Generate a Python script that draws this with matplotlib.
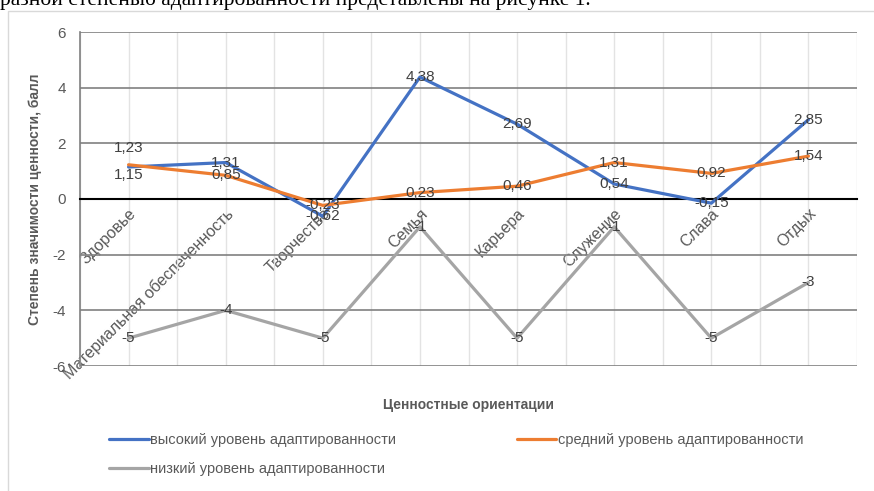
import numpy as np
import matplotlib
matplotlib.use("Agg")
import matplotlib.pyplot as plt
from matplotlib.patches import Rectangle
from matplotlib.ticker import MultipleLocator

plt.rcParams['font.family'] = ['Liberation Sans', 'DejaVu Sans']
plt.rcParams['axes.unicode_minus'] = False

categories = ["Здоровье", "Материальная обеспеченность", "Творчество", "Семья",
              "Карьера", "Служение", "Слава", "Отдых"]
high = [1.15, 1.31, -0.62, 4.38, 2.69, 0.54, -0.15, 2.85]
medium = [1.23, 0.85, -0.23, 0.23, 0.46, 1.31, 0.92, 1.54]
low = [-5, -4, -5, -1, -5, -1, -5, -3]
series_names = ["высокий уровень адаптированности",
                "средний уровень адаптированности",
                "низкий уровень адаптированности"]
colors = ["#4472C4", "#ED7D31", "#A5A5A5"]

fig = plt.figure(figsize=(8.74, 4.91), dpi=100)

# body text of the document, cut off at the top
fig.text(0.0, 1 - 5 / 491, "разной степенью адаптированности представлены на рисунке 1.",
         family="Liberation Serif", fontsize=15.5, va="baseline", ha="left", color="black")

# chart area border
fig.add_artist(Rectangle((7.5 / 874, -0.01), 1.0, 1 - 11 / 491 + 0.01,
                         transform=fig.transFigure, fill=False, edgecolor="#d9d9d9", lw=1))

ax = fig.add_axes([80 / 874, 1 - 366 / 491, 777 / 874, 334 / 491])
x = np.arange(len(categories))

lines = []
for vals, name, c in zip([high, medium, low], series_names, colors):
    ln, = ax.plot(x, vals, color=c, lw=2.3, label=name, solid_capstyle="round", zorder=3)
    lines.append(ln)

# data labels
offsets_high = [6, 0, 0, 0, 0, 0, 0, 0]
offsets_med = [-12, 0, 0, 0, 0, 0, 0, 0]
for vals, offs in [(high, offsets_high), (medium, offsets_med), (low, [0] * 8)]:
    for xi, v, o in zip(x, vals, offs):
        txt = f"{v:g}".replace(".", ",")
        ax.annotate(txt, (xi, v), xytext=(0, -o), textcoords="offset points",
                    ha="center", va="center", fontsize=11, color="#404040", zorder=5)

ax.spines["bottom"].set_position(("data", 0))
ax.spines["bottom"].set_color("black")
ax.spines["bottom"].set_linewidth(1.5)
ax.spines["left"].set_color("#808080")
ax.spines["left"].set_linewidth(1.2)
ax.spines["top"].set_visible(False)
ax.spines["right"].set_visible(False)

ax.set_xlim(-0.5, 7.5)
ax.set_ylim(-6, 6)
ax.yaxis.set_major_locator(MultipleLocator(2))
ax.xaxis.set_minor_locator(MultipleLocator(0.5))
ax.set_xticks(x)
ax.set_xticklabels(categories)
plt.setp(ax.get_xticklabels(), rotation=45, ha="right", va="top", rotation_mode="anchor",
         fontsize=11.5, color="#595959")
ax.tick_params(axis="x", which="both", length=0, pad=5)
ax.tick_params(axis="y", length=0, labelsize=11, labelcolor="#595959", pad=10)

ax.grid(axis="x", which="both", color="#e3e3e3", lw=1, zorder=0)
ax.grid(axis="y", which="major", color="#808080", lw=1.2, zorder=0)
ax.set_axisbelow(True)

fig.text(35 / 874, 1 - 199 / 491, "Степень значимости ценности, балл", rotation=90,
         ha="center", va="center", fontsize=10, fontweight="bold", color="#595959")
fig.text(468 / 874, 1 - 405 / 491, "Ценностные ориентации",
         ha="center", va="center", fontsize=10, fontweight="bold", color="#595959")

order = [0, 2, 1]
fig.legend([lines[i] for i in order], [series_names[i] for i in order],
           loc="upper left", bbox_to_anchor=(96 / 874, 1 - 420 / 491), ncol=2,
           frameon=False, fontsize=10.5, handlelength=2.7, handletextpad=0.1,
           columnspacing=8.3, labelspacing=1.05, labelcolor="#595959")

fig.savefig("out.png", dpi=100)
